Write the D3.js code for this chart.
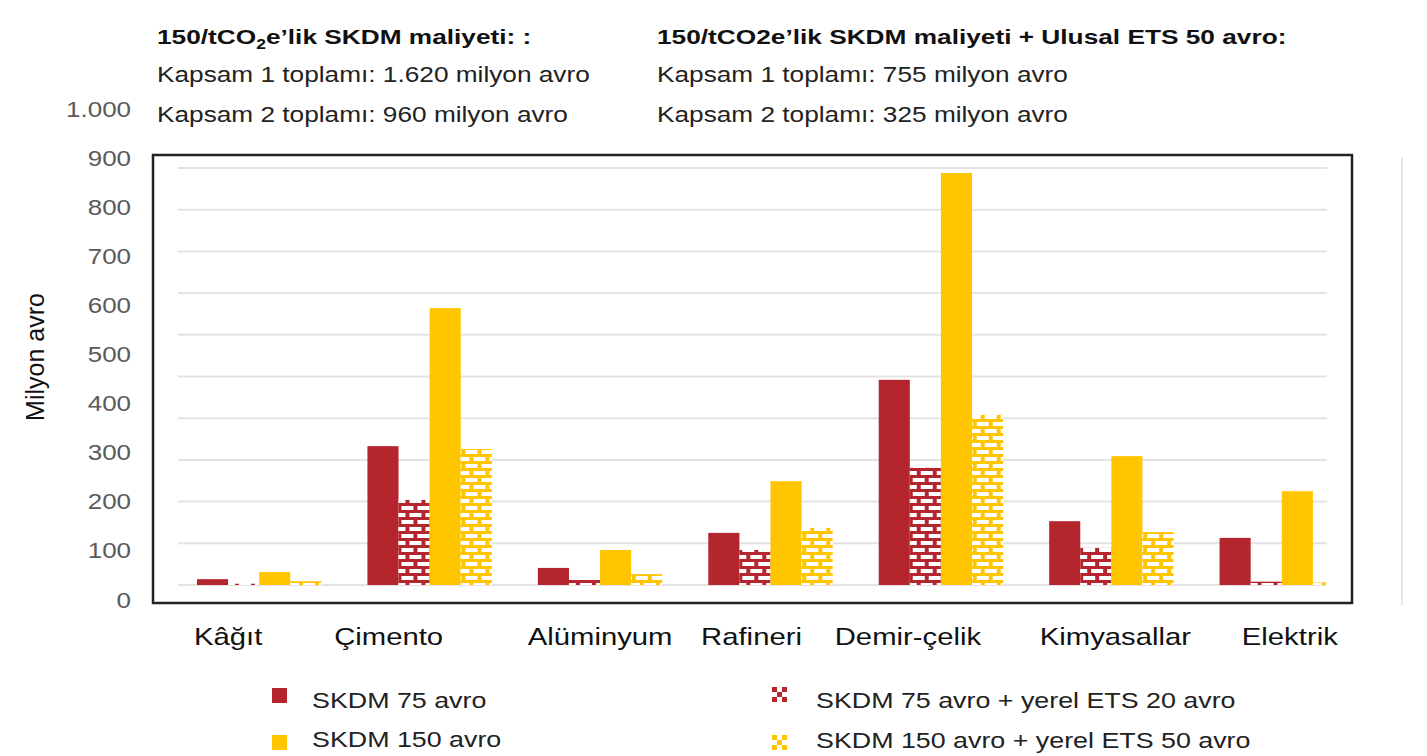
<title>SKDM maliyeti</title>
<style>
  body { margin: 0; background: #fff; }
  svg { font-family: "Liberation Sans", Arial, sans-serif; }
</style>
<svg id="chart"></svg>
<script src="https://cdn.jsdelivr.net/npm/d3@7"></script>
<script>
  // data (milyon avro)
  var categories = ["Kâğıt", "Çimento", "Alüminyum", "Rafineri", "Demir-çelik", "Kimyasallar", "Elektrik"];
  var skdm75 = [14, 333, 41, 125, 492, 153, 113];
  var skdm75Ets20 = [3, 204, 12, 84, 281, 89, 8];
  var skdm150 = [31, 664, 84, 249, 988, 309, 225];
  var skdm150Ets50 = [9, 326, 26, 137, 408, 127, 6];
  var seriesNames = ["SKDM 75 avro", "SKDM 75 avro + yerel ETS 20 avro", "SKDM 150 avro", "SKDM 150 avro + yerel ETS 50 avro"];
  var yTicks = [0, 100, 200, 300, 400, 500, 600, 700, 800, 900, 1000];
  var header1 = ["Kapsam 1 toplamı: 1.620 milyon avro", "Kapsam 2 toplamı: 960 milyon avro"];
  var header2 = ["Kapsam 1 toplamı: 755 milyon avro", "Kapsam 2 toplamı: 325 milyon avro"];

  var red = "#b5252d", yellow = "#ffc600";
  var width = 1427, height = 756;
  var stretch = 1.22; // the source text is drawn wide

  var svg = d3.select("#chart").attr("width", width).attr("height", height);
  var defs = svg.append("defs");

  // brick patterns
  function brick(id, color) {
    var p = defs.append("pattern").attr("id", id)
      .attr("patternUnits", "userSpaceOnUse")
      .attr("width", 16).attr("height", 14);
    p.append("rect").attr("width", 16).attr("height", 14).attr("fill", color);
    p.append("rect").attr("x", 2).attr("y", 2).attr("width", 12).attr("height", 4).attr("fill", "#fff");
    p.append("rect").attr("x", -6).attr("y", 9).attr("width", 12).attr("height", 4).attr("fill", "#fff");
    p.append("rect").attr("x", 10).attr("y", 9).attr("width", 12).attr("height", 4).attr("fill", "#fff");
  }
  brick("brickRed", red);
  brick("brickYellow", yellow);

  // legend checker
  function checker(id, color) {
    var p = defs.append("pattern").attr("id", id)
      .attr("patternUnits", "userSpaceOnUse")
      .attr("width", 10).attr("height", 10);
    p.append("rect").attr("width", 10).attr("height", 10).attr("fill", "#fff");
    p.append("rect").attr("width", 5).attr("height", 5).attr("fill", color);
    p.append("rect").attr("x", 5).attr("y", 5).attr("width", 5).attr("height", 5).attr("fill", color);
  }
  checker("checkRed", red);
  checker("checkYellow", yellow);

  var fills = [red, "url(#brickRed)", yellow, "url(#brickYellow)"];
  var legendFills = [red, "url(#checkRed)", yellow, "url(#checkYellow)"];

  var rows = categories.map(function(c, i) {
    return {cat: c, values: [skdm75[i], skdm75Ets20[i], skdm150[i], skdm150Ets50[i]]};
  });

  // scales
  var x = d3.scaleBand().domain(categories).range([174, 1367]).paddingInner(0.27).paddingOuter(0.135);
  var xs = d3.scaleBand().domain(d3.range(4)).range([0, x.bandwidth()]);
  var y = d3.scaleLinear().domain([0, 1000]).range([585, 168]);
  var yLabel = d3.scaleLinear().domain([0, 1000]).range([600, 109]);
  var tr = d3.formatLocale({decimal: ",", thousands: ".", grouping: [3], currency: ["", " €"]});
  var fmt = tr.format(",d");

  function wide(x0, y0, s) { return "translate(" + x0 + "," + y0 + ") scale(" + (s || stretch) + ",1)"; }

  // header text
  var h1 = svg.append("text").attr("transform", wide(157, 44, 1.25))
    .attr("font-size", 21).attr("font-weight", "bold").attr("fill", "#111");
  h1.append("tspan").text("150/tCO");
  h1.append("tspan").attr("font-size", 14).attr("dy", 5).text("2");
  h1.append("tspan").attr("dy", -5).text("e’lik SKDM maliyeti: :");
  svg.append("text").attr("transform", wide(657, 44, 1.25))
    .attr("font-size", 21).attr("font-weight", "bold").attr("fill", "#111")
    .text("150/tCO2e’lik SKDM maliyeti + Ulusal ETS 50 avro:");
  svg.selectAll(".h1line").data(header1).enter().append("text")
    .attr("transform", function(d, i) { return wide(157, 82 + i * 40); })
    .attr("font-size", 21.5).attr("fill", "#222").text(function(d) { return d; });
  svg.selectAll(".h2line").data(header2).enter().append("text")
    .attr("transform", function(d, i) { return wide(657, 82 + i * 40); })
    .attr("font-size", 21.5).attr("fill", "#222").text(function(d) { return d; });

  // gridlines
  svg.append("g").selectAll("line").data(y.ticks(10)).enter().append("line")
    .attr("x1", 178).attr("x2", 1327)
    .attr("y1", function(d) { return y(d); }).attr("y2", function(d) { return y(d); })
    .attr("stroke", "#e3e3e3").attr("stroke-width", 2);

  // bars
  defs.append("clipPath").attr("id", "plotClip")
    .append("rect").attr("x", 155).attr("y", 157).attr("width", 1172).attr("height", 444);

  var groups = svg.append("g").attr("clip-path", "url(#plotClip)")
    .selectAll("g").data(rows).enter().append("g")
    .attr("transform", function(d) { return "translate(" + x(d.cat) + ",0)"; });

  groups.selectAll("rect").data(function(d) { return d.values; }).enter().append("rect")
    .attr("x", function(d, i) { return xs(i); })
    .attr("y", function(d) { return y(d); })
    .attr("width", xs.bandwidth())
    .attr("height", function(d) { return y(0) - y(d); })
    .attr("fill", function(d, i) { return fills[i]; });

  // frame
  svg.append("rect").attr("x", 153).attr("y", 155).attr("width", 1199).attr("height", 448)
    .attr("fill", "none").attr("stroke", "#222").attr("stroke-width", 2.5);
  svg.append("line").attr("x1", 1402).attr("x2", 1402).attr("y1", 157).attr("y2", 605)
    .attr("stroke", "#e6e6e6").attr("stroke-width", 2);

  // y axis labels
  var yAxis = svg.append("g").attr("transform", "translate(131,0)")
    .call(d3.axisLeft(yLabel).tickValues(yTicks).tickFormat(fmt).tickSize(0).tickPadding(0));
  yAxis.select(".domain").remove();
  yAxis.selectAll("text").attr("font-size", 22).attr("fill", "#5a5a5a")
    .attr("font-family", "Liberation Sans, Arial, sans-serif")
    .attr("transform", "scale(1.18,1)");

  svg.append("text").attr("transform", "translate(44,357) rotate(-90)")
    .attr("text-anchor", "middle").attr("font-size", 25).attr("fill", "#111")
    .text("Milyon avro");

  // category labels (slight nudges as in the source image)
  var labelNudge = [-31, -41, 0, -19, -33, 4, 8];
  var xAxis = svg.append("g").attr("transform", "translate(0,645)")
    .call(d3.axisBottom(x).tickSize(0).tickPadding(0));
  xAxis.select(".domain").remove();
  xAxis.selectAll("text").attr("font-size", 24).attr("fill", "#111").attr("dy", 0)
    .attr("font-family", "Liberation Sans, Arial, sans-serif")
    .attr("transform", function(d, i) { return wide(labelNudge[i], 0); });

  // legend
  var legendPos = [[272, 688], [772, 687], [272, 735], [772, 735]];
  var legendTextY = [20, 21, 12, 13];
  var legend = svg.append("g").selectAll("g").data(seriesNames).enter().append("g")
    .attr("transform", function(d, i) { return "translate(" + legendPos[i][0] + "," + legendPos[i][1] + ")"; });
  legend.append("rect").attr("width", 15).attr("height", 15)
    .attr("fill", function(d, i) { return legendFills[i]; });
  legend.append("text")
    .attr("transform", function(d, i) { return wide(i % 2 ? 44 : 40, legendTextY[i]); })
    .attr("font-size", 22).attr("fill", "#222").text(function(d) { return d; });
</script>
